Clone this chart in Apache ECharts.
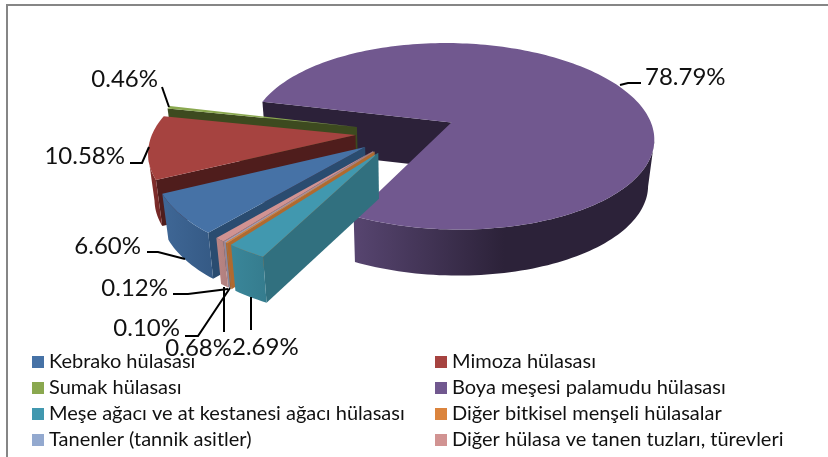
<!DOCTYPE html>
<html><head><meta charset="utf-8"><style>html,body{margin:0;padding:0;background:#fff}#c{width:828px;height:457px}</style>
<script src="https://cdn.jsdelivr.net/npm/echarts@6/dist/echarts.min.js"></script></head>
<body><div id="c"></div><script>
const categories=["Kebrako hülasası","Mimoza hülasası","Sumak hülasası","Boya meşesi palamudu hülasası","Meşe ağacı ve at kestanesi ağacı hülasası","Diğer bitkisel menşeli hülasalar","Tanenler (tannik asitler)","Diğer hülasa ve tanen tuzları, türevleri"];
const values=[6.60,10.58,0.46,78.79,2.69,0.12,0.10,0.68];
const topColors=["#4672a6","#a64340","#8aa84f","#71588f","#4198af","#db843d","#93a9cf","#d19392"];
const cutColors=["#2a4c70","#4f1d1c","#3d4a1f","#2c2139","#31707f","#b06a2f","#7888a5","#b07f7e"];
const rimColors=[["#3f6796","#355a85"],["#8a3230","#6e2624"],["#6b8238","#5a6e30"],["#574570","#2c2239"],["#3a8699","#357c8e"],["#b06a2f","#a8622a"],["#7f8fb0","#7888a5"],["#ba8584","#b07f7e"]];
const total=values.reduce((a,b)=>a+b,0);
const rad=d=>d*Math.PI/180;
const dir=t=>[Math.sin(rad(t)),-Math.cos(rad(t))];
const P={cx:406.03,cy:132.09,R:202.65,Ry:94.1,k:0.1516,e:0.2504,th:220};
const DEPTH=46,XS=0.975;
function slices(){let a=P.th,o=[];for(const v of values){const w=v/total*360;o.push({s:a,e:a+w,m:a+w/2});a+=w;}return o;}
const S=slices();
function proj(u,v){const q=1/(1-P.k*v);return [P.cx+P.R*u*q,P.cy+P.Ry*v*q];}
function rim(i,t){const m=dir(S[i].m),d=dir(t);return proj(P.e*m[0]+d[0],P.e*m[1]+d[1]);}
function apex(i){const m=dir(S[i].m);return proj(P.e*m[0],P.e*m[1]);}
function bot(pt){return [P.cx+(pt[0]-P.cx)*XS,pt[1]+DEPTH];}
const labelLayout=[
 {x:141,y:246,a:'right',l:[[147,252],[158,252],[185,259]]},
 {x:125,y:156,a:'right',l:[[130,163],[142,163],[149,147]]},
 {x:158,y:79,a:'right',l:[[162,87],[169,107]]},
 {x:645,y:77,a:'left',l:[[620,85],[628,83],[641,83]]},
 {x:232,y:347,a:'left',l:[[251,330],[251,297]]},
 {x:168,y:288,a:'right',l:[[173,294],[188,294],[228,289]]},
 {x:180,y:328,a:'right',l:[[185,336],[198,336],[230,288]]},
 {x:232,y:348,a:'right',l:[[224,332],[224,287]]}];
const drawOrder=[3,2,1,0,7,6,5,4];
function renderSlice(i){return function(params,api){
 const s=S[i],val=api.value(0),kids=[];
 const A=apex(i),r0=rim(i,s.s);
 kids.push({type:'polygon',shape:{points:[A,r0,bot(r0),bot(A)]},style:{fill:cutColors[i]}});
 const n=Math.max(4,Math.ceil((s.e-s.s)/1.5));const pts=[];for(let j=0;j<=n;j++)pts.push(rim(i,s.s+(s.e-s.s)*j/n));
 const vis=[];for(let j=0;j<n;j++){if(pts[j+1][0]<pts[j][0]){vis.push(pts[j]);if(j==n-1||pts[j+2]&&pts[j+2][0]>=pts[j+1][0])vis.push(pts[j+1]);}}
 if(vis.length>1){const poly=vis.concat(vis.slice().reverse().map(bot));
  kids.push({type:'polygon',shape:{points:poly},style:{fill:new echarts.graphic.LinearGradient(1,0,0,0,[{offset:0,color:rimColors[i][1]},{offset:i==3?0.5:1,color:i==3?'#2c2239':rimColors[i][0]},{offset:1,color:rimColors[i][0]}])}});}
 kids.push({type:'polygon',shape:{points:[A].concat(pts)},style:{fill:topColors[i]}});
 const L=labelLayout[i];
 kids.push({type:'polyline',shape:{points:L.l},style:{stroke:'#000',lineWidth:2,fill:null}});
 kids.push({type:'text',style:{x:L.x,y:L.y,text:val.toFixed(2)+'%',fill:'#111',font:'24px Lato',textAlign:L.a,textVerticalAlign:'middle'}});
 return {type:'group',children:kids};
};}
const series=categories.map((name,i)=>({type:'custom',name,coordinateSystem:'none',z:2+drawOrder.indexOf(i),silent:true,animation:false,itemStyle:{color:topColors[i]},data:[[values[i]]],renderItem:renderSlice(i),clip:false}));
const legendBase={orient:'vertical',icon:'rect',itemWidth:12,itemHeight:12,itemGap:6,selectedMode:false,padding:0,top:352,textStyle:{fontFamily:'Lato',fontSize:20,color:'#111',lineHeight:20}};
const chart=echarts.init(document.getElementById('c'),null,{renderer:'canvas'});
chart.setOption({animation:false,backgroundColor:'#fff',
 legend:[Object.assign({},legendBase,{left:32,data:categories.filter((c,i)=>i%2==0)}),Object.assign({},legendBase,{left:435,data:categories.filter((c,i)=>i%2==1)})],
 graphic:[{type:'rect',shape:{x:6,y:4,width:822,height:2},style:{fill:'#868686'}},{type:'rect',shape:{x:6,y:4,width:2,height:453},style:{fill:'#868686'}}],
 series});
</script></body></html>
